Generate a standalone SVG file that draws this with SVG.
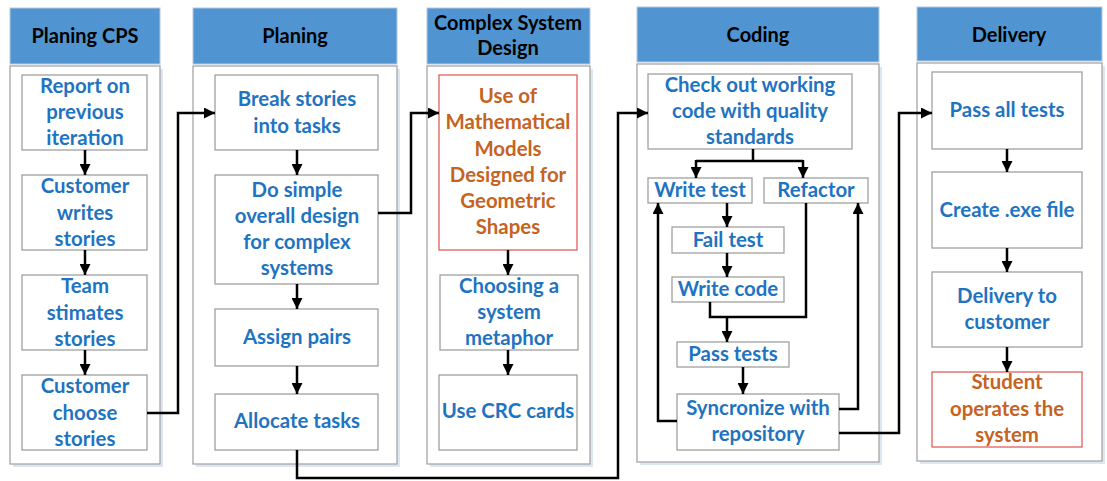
<svg xmlns="http://www.w3.org/2000/svg" width="1107" height="481" viewBox="0 0 1107 481">
<defs>
<marker id="ah" viewBox="0 0 10 10" refX="10" refY="5" markerWidth="4.4" markerHeight="4.4" orient="auto" markerUnits="strokeWidth">
<path d="M0,0 L10,5 L0,10 Z" fill="#000"/>
</marker>
<style>
.hdr{fill:#5095d1;stroke:#b5c8de;stroke-width:1}
.body{fill:#fff;stroke:#a6a6a6;stroke-width:1.3}
.shadow{fill:#dde7f2}
.box{fill:#fff;stroke:#a0a0a0;stroke-width:1.3}
.rbox{fill:#fff;stroke:#e0524f;stroke-width:1.2}
.ht{font-family:Lato,"Open Sans",sans-serif;font-weight:bold;font-size:20px;fill:#000;text-anchor:middle}
.t{font-family:Lato,"Open Sans",sans-serif;font-weight:bold;font-size:20.4px;fill:#1f74c1;text-anchor:middle}
.o{fill:#c5631f}
.c{fill:none;stroke:#000;stroke-width:2.5}
.ca{fill:none;stroke:#000;stroke-width:2.5;marker-end:url(#ah)}
</style>
</defs>

<g id="col-planing-cps">
<rect class="shadow" x="13" y="69" width="150" height="398"/>
<rect class="body" x="10" y="66" width="150" height="398"/>
<rect class="hdr" x="10" y="8" width="150" height="56"/>
<text class="ht" x="85" y="43">Planing CPS</text>
</g>
<g id="col-planing">
<rect class="shadow" x="196" y="69" width="204" height="398"/>
<rect class="body" x="193" y="66" width="204" height="398"/>
<rect class="hdr" x="193" y="8" width="204" height="56"/>
<text class="ht" x="295" y="43">Planing</text>
</g>
<g id="col-complex">
<rect class="shadow" x="430" y="69" width="163" height="398"/>
<rect class="body" x="427" y="66" width="163" height="398"/>
<rect class="hdr" x="427" y="8" width="163" height="56"/>
<text class="ht" x="508" y="30">Complex System</text>
<text class="ht" x="508" y="55">Design</text>
</g>
<g id="col-coding">
<rect class="shadow" x="640" y="67" width="242" height="398"/>
<rect class="body" x="637" y="64" width="242" height="398"/>
<rect class="hdr" x="637" y="7" width="242" height="55"/>
<text class="ht" x="758" y="42">Coding</text>
</g>
<g id="col-delivery">
<rect class="shadow" x="920" y="66" width="185" height="398"/>
<rect class="body" x="917" y="63" width="185" height="398"/>
<rect class="hdr" x="917" y="7" width="185" height="54"/>
<text class="ht" x="1009" y="42">Delivery</text>
</g>

<g id="n-report"><rect class="box" x="22" y="75" width="125" height="75"/>
<text class="t" x="85" y="93">Report on</text><text class="t" x="85" y="119">previous</text><text class="t" x="85" y="145">iteration</text></g>
<g id="n-cust-writes"><rect class="box" x="22" y="175" width="125" height="75"/>
<text class="t" x="85" y="193">Customer</text><text class="t" x="85" y="220">writes</text><text class="t" x="85" y="246">stories</text></g>
<g id="n-team"><rect class="box" x="22" y="275" width="125" height="75"/>
<text class="t" x="85" y="293">Team</text><text class="t" x="85" y="320">stimates</text><text class="t" x="85" y="346">stories</text></g>
<g id="n-cust-choose"><rect class="box" x="22" y="375" width="125" height="75"/>
<text class="t" x="85" y="393">Customer</text><text class="t" x="85" y="420">choose</text><text class="t" x="85" y="446">stories</text></g>

<g id="n-break"><rect class="box" x="215" y="75" width="163" height="75"/>
<text class="t" x="297" y="106">Break stories</text><text class="t" x="297" y="133">into tasks</text></g>
<g id="n-simple"><rect class="box" x="215" y="175" width="163" height="109"/>
<text class="t" x="297" y="197">Do simple</text><text class="t" x="297" y="223">overall design</text><text class="t" x="297" y="249">for complex</text><text class="t" x="297" y="275">systems</text></g>
<g id="n-assign"><rect class="box" x="215" y="309" width="163" height="57"/>
<text class="t" x="297" y="344">Assign pairs</text></g>
<g id="n-allocate"><rect class="box" x="215" y="394" width="163" height="56"/>
<text class="t" x="297" y="428">Allocate tasks</text></g>

<g id="n-math"><rect class="rbox" x="439" y="75" width="138" height="175"/>
<text class="t o" x="508" y="103">Use of</text><text class="t o" x="508" y="129">Mathematical</text><text class="t o" x="508" y="156">Models</text><text class="t o" x="508" y="182">Designed for</text><text class="t o" x="508" y="208">Geometric</text><text class="t o" x="508" y="234">Shapes</text></g>
<g id="n-metaphor"><rect class="box" x="440" y="275" width="138" height="75"/>
<text class="t" x="509" y="293">Choosing a</text><text class="t" x="509" y="319">system</text><text class="t" x="509" y="345">metaphor</text></g>
<g id="n-crc"><rect class="box" x="439" y="375" width="138" height="75"/>
<text class="t" x="508" y="418">Use CRC cards</text></g>

<g id="n-checkout"><rect class="box" x="648" y="74" width="204" height="75"/>
<text class="t" x="750" y="92">Check out working</text><text class="t" x="750" y="118">code with quality</text><text class="t" x="750" y="144">standards</text></g>
<g id="n-writetest"><rect class="box" x="648" y="178" width="104" height="25"/>
<text class="t" x="700" y="197">Write test</text></g>
<g id="n-refactor"><rect class="box" x="764" y="178" width="104" height="25"/>
<text class="t" x="816" y="197">Refactor</text></g>
<g id="n-failtest"><rect class="box" x="672" y="227" width="112" height="26"/>
<text class="t" x="728" y="247">Fail test</text></g>
<g id="n-writecode"><rect class="box" x="672" y="277" width="112" height="25"/>
<text class="t" x="728" y="296">Write code</text></g>
<g id="n-passtests"><rect class="box" x="677" y="342" width="112" height="25"/>
<text class="t" x="733" y="361">Pass tests</text></g>
<g id="n-sync"><rect class="box" x="677" y="394" width="162" height="56"/>
<text class="t" x="758" y="415">Syncronize with</text><text class="t" x="758" y="441">repository</text></g>

<g id="n-passall"><rect class="box" x="932" y="72" width="150" height="77"/>
<text class="t" x="1007" y="117">Pass all tests</text></g>
<g id="n-exe"><rect class="box" x="932" y="172" width="150" height="76"/>
<text class="t" x="1007" y="217">Create .exe file</text></g>
<g id="n-deliver"><rect class="box" x="932" y="272" width="150" height="75"/>
<text class="t" x="1007" y="303">Delivery to</text><text class="t" x="1007" y="329">customer</text></g>
<g id="n-student"><rect class="rbox" x="932" y="372" width="150" height="75"/>
<text class="t o" x="1007" y="389">Student</text><text class="t o" x="1007" y="416">operates the</text><text class="t o" x="1007" y="442">system</text></g>

<g id="connectors">
<path class="ca" d="M85,150 V175"/>
<path class="ca" d="M85,250 V275"/>
<path class="ca" d="M85,350 V375"/>
<path class="ca" d="M297,150 V175"/>
<path class="ca" d="M297,284 V309"/>
<path class="ca" d="M297,366 V394"/>
<path class="ca" d="M508,250 V275"/>
<path class="ca" d="M508,350 V375"/>
<path class="ca" d="M1007,149 V172"/>
<path class="ca" d="M1007,248 V272"/>
<path class="ca" d="M1007,347 V372"/>

<path class="ca" d="M147,413 H178 V113 H215"/>
<path class="ca" d="M378,213 H411 V113 H439"/>
<path class="ca" d="M297,450 V478 H618 V113 H648"/>
<path class="ca" d="M839,433 H899 V113 H932"/>

<path class="c" d="M753,149 V161"/>
<path class="c" d="M696,161 H803"/>
<path class="ca" d="M696,160 V178"/>
<path class="ca" d="M803,160 V178"/>
<path class="ca" d="M727,203 V227"/>
<path class="ca" d="M727,253 V277"/>
<path class="c" d="M710,302 V317 H806 V203"/>
<path class="ca" d="M727,316 V342"/>
<path class="ca" d="M743,367 V394"/>
<path class="ca" d="M677,421 H658 V203"/>
<path class="ca" d="M839,409 H858 V203"/>
</g>
</svg>
